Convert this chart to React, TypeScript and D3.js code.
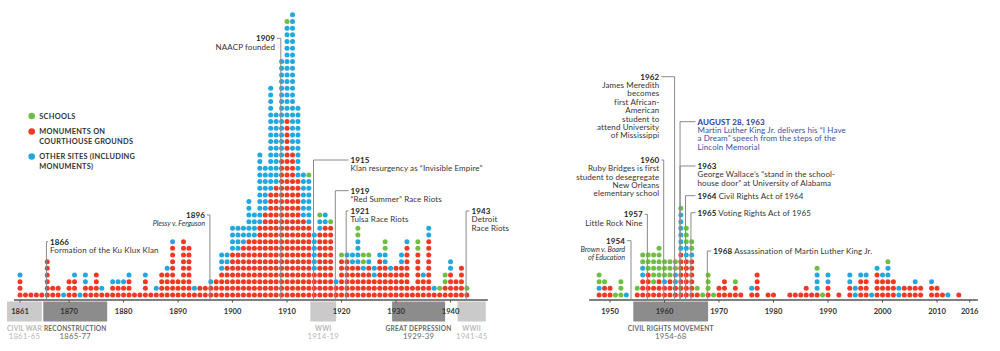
import * as d3 from 'd3';

// Monument dedications per year (bottom-up stack: courthouse, other, schools)
const earlyFirstYear = 1861; // 1861 .. 1945
const courthouseEarly = [
  3, 1, 1, 1, 1, 6, 2, 2, 0, // 1861-69
  3, 3, 0, 2, 2, 4, 1, 1, 2, 2, // 1870s
  2, 3, 1, 1, 3, 1, 1, 4, 4, 8, // 1880s
  3, 9, 8, 1, 2, 2, 2, 3, 4, 5, // 1890s
  7, 7, 8, 9, 9, 11, 13, 16, 17, 21, // 1900s
  27, 22, 18, 12, 11, 4, 10, 11, 11, 2, // 1910s
  6, 6, 5, 5, 4, 5, 3, 6, 5, 4, // 1920s
  5, 5, 8, 2, 7, 3, 9, 1, 1, 2, // 1930s
  4, 3, 5, 1, 0, 0, // 1940-45
];
const otherEarly = [
  1, 0, 0, 0, 0, 0, 0, 0, 1,
  0, 1, 1, 2, 0, 0, 1, 0, 1, 1,
  1, 1, 0, 0, 1, 0, 1, 0, 1, 1,
  0, 0, 0, 1, 0, 0, 1, 0, 3, 2,
  4, 4, 3, 6, 4, 11, 7, 16, 11, 15,
  14, 21, 11, 7, 7, 6, 2, 2, 0, 1,
  0, 1, 2, 4, 1, 1, 2, 1, 2, 1,
  0, 2, 1, 0, 0, 1, 2, 1, 0, 0,
  2, 0, 0, 0, 0, 0,
];
const schoolsEarly = [
  0, 0, 0, 0, 0, 0, 0, 0, 0,
  0, 0, 0, 0, 0, 0, 0, 0, 0, 0,
  0, 0, 0, 0, 0, 0, 0, 0, 0, 0,
  0, 0, 0, 0, 0, 0, 0, 0, 0, 0,
  0, 0, 0, 0, 0, 0, 0, 0, 0, 0,
  1, 0, 0, 0, 1, 0, 1, 0, 1, 0,
  1, 0, 0, 2, 2, 1, 0, 0, 2, 0,
  0, 0, 0, 0, 2, 0, 0, 0, 1, 2,
  0, 0, 0, 1, 0, 0,
];

const lateFirstYear = 1948; // 1948 .. 2016
const courthouseLate = [
  1, 2, // 1948-49
  2, 0, 0, 0, 0, 1, 3, 4, 2, 3, // 1950s
  2, 3, 2, 7, 6, 6, 1, 0, 1, 0, // 1960s
  2, 3, 1, 2, 1, 0, 1, 4, 0, 1, // 1970s
  1, 0, 0, 1, 1, 1, 2, 1, 1, 0, // 1980s
  2, 0, 1, 0, 2, 0, 3, 3, 0, 4, // 1990s
  3, 3, 3, 0, 2, 2, 2, 2, 0, 2, // 2000s
  2, 1, 0, 0, 1, 0, 0, // 2010-16
];
const otherLate = [
  1, 0,
  0, 0, 0, 1, 0, 0, 2, 0, 0, 0,
  1, 0, 2, 6, 2, 1, 0, 0, 0, 0,
  0, 0, 0, 0, 0, 0, 1, 0, 0, 0,
  0, 0, 0, 0, 0, 0, 0, 0, 3, 0,
  2, 0, 0, 0, 2, 2, 1, 1, 1, 1,
  1, 2, 0, 2, 0, 0, 1, 0, 0, 1,
  0, 0, 1, 0, 0, 0, 0,
];
const schoolsLate = [
  2, 1,
  0, 1, 3, 0, 0, 1, 2, 3, 5, 5,
  3, 3, 2, 1, 3, 2, 1, 1, 3, 1,
  0, 0, 0, 1, 0, 0, 0, 0, 0, 0,
  0, 0, 0, 0, 0, 0, 0, 0, 1, 1,
  0, 0, 0, 0, 0, 0, 0, 0, 0, 0,
  0, 1, 0, 0, 0, 0, 0, 0, 0, 0,
  0, 0, 0, 0, 0, 0, 0,
];

const legendItems = [
  { key: 'school', lines: ['SCHOOLS'] },
  { key: 'court', lines: ['MONUMENTS ON', 'COURTHOUSE GROUNDS'] },
  { key: 'other', lines: ['OTHER SITES (INCLUDING', 'MONUMENTS)'] },
];

const ticksEarly = [1861, 1870, 1880, 1890, 1900, 1910, 1920, 1930, 1940];
const ticksLate = [1950, 1960, 1970, 1980, 1990, 2000, 2010, 2016];

const eras = [
  { name: 'CIVIL WAR', span: '1861-65', start: 1861, end: 1865, dark: false },
  { name: 'RECONSTRUCTION', span: '1865-77', start: 1865, end: 1877, dark: true },
  { name: 'WWI', span: '1914-19', start: 1914, end: 1919, dark: false },
  { name: 'GREAT DEPRESSION', span: '1929-39', start: 1929, end: 1939, dark: true },
  { name: 'WWII', span: '1941-45', start: 1941, end: 1945, dark: false },
  { name: 'CIVIL RIGHTS MOVEMENT', span: '1954-68', start: 1954, end: 1968, dark: true },
];

// events: year the leader points at, heading, text lines
const events = [
  { year: 1866, head: '1866', body: ['Formation of the Ku Klux Klan'] },
  { year: 1896, head: '1896', body: ['Plessy v. Ferguson'], italic: true },
  { year: 1909, head: '1909', body: ['NAACP founded'] },
  { year: 1915, head: '1915', body: ['Klan resurgency as “Invisible Empire”'] },
  { year: 1919, head: '1919', body: ['“Red Summer” Race Riots'] },
  { year: 1921, head: '1921', body: ['Tulsa Race Riots'] },
  { year: 1943, head: '1943', body: ['Detroit', 'Race Riots'] },
  { year: 1954, head: '1954', body: ['Brown v. Board', 'of Education'], italic: true },
  { year: 1957, head: '1957', body: ['Little Rock Nine'] },
  { year: 1960, head: '1960', body: ['Ruby Bridges is first', 'student to desegregate', 'New Orleans', 'elementary school'] },
  { year: 1962, head: '1962', body: ['James Meredith', 'becomes', 'first African-', 'American', 'student to', 'attend University', 'of Mississippi'] },
  { year: 1963, head: 'AUGUST 28, 1963', body: ['Martin Luther King Jr. delivers his “I Have', 'a Dream” speech from the steps of the', 'Lincoln Memorial'], blue: true },
  { year: 1963, head: '1963', body: ['George Wallace’s “stand in the school-', 'house door” at University of Alabama'] },
  { year: 1964, head: '1964', body: ['Civil Rights Act of 1964'], inline: true },
  { year: 1965, head: '1965', body: ['Voting Rights Act of 1965'], inline: true },
  { year: 1968, head: '1968', body: ['Assassination of Martin Luther King Jr.'], inline: true },
];

// layout of the event labels: text x, heading centre y, anchor side
const eventLayout = [
  { tx: 50, ty: 241.7, side: 'start' },
  { tx: 205, ty: 215, side: 'end' },
  { tx: 275, ty: 38.3, side: 'end' },
  { tx: 350.5, ty: 160, side: 'start' },
  { tx: 350.5, ty: 190.7, side: 'start' },
  { tx: 350.5, ty: 211, side: 'start' },
  { tx: 471.5, ty: 211, side: 'start' },
  { tx: 625, ty: 240.7, side: 'end' },
  { tx: 642.7, ty: 214.3, side: 'end' },
  { tx: 659.3, ty: 160, side: 'end' },
  { tx: 659.3, ty: 76.7, side: 'end' },
  { tx: 697.5, ty: 121.7, side: 'start' },
  { tx: 697.5, ty: 166, side: 'start' },
  { tx: 697.5, ty: 195.7, side: 'start' },
  { tx: 697.5, ty: 212.7, side: 'start' },
  { tx: 713.3, ty: 251, side: 'start' },
];

const COLORS: Record<string, string> = { school: '#6fbe44', court: '#ee3a24', other: '#22a7e0' };

const x = d3.scaleLinear().domain([1861, 1945, 1947, 2016]).range([20, 477.8, 593.65, 969.7]);
const BASE = 300;
const row = d3.scaleLinear().domain([0, 42]).range([295, 295 - 42 * 6.67]);

function columns() {
  const out: { year: number; kinds: string[] }[] = [];
  const add = (first: number, c: number[], o: number[], s: number[]) => {
    c.forEach((_, i) => {
      const kinds = [
        ...Array(c[i]).fill('court'),
        ...Array(o[i]).fill('other'),
        ...Array(s[i]).fill('school'),
      ];
      if (kinds.length) out.push({ year: first + i, kinds });
    });
  };
  add(earlyFirstYear, courthouseEarly, otherEarly, schoolsEarly);
  add(lateFirstYear, courthouseLate, otherLate, schoolsLate);
  return out;
}

const FS = 8;
const LS = 0.1;
const LH = 8.4;
const bl = (c: number) => c + FS * 0.36;

export default function App() {
  const cols = columns();
  const leftEnd = x(1945) + 10;
  const axisParts = [
    [x(1861) - 6, leftEnd],
    [x(1948) - 10, x(2017.5)],
  ];
  return (
    <svg width={1000} height={351} style={{ position: 'absolute', left: 0, top: 0 }} fontFamily="Lato, 'Open Sans', sans-serif">
      <rect width={1000} height={351} fill="#fff" />

      {/* era bands */}
      {eras.map((e, i) => {
        const x0 = i === 0 ? x(e.start) - 13 : x(e.start) + 1.5;
        const x1 = e.end === 1945 ? leftEnd - 2 : x(e.end);
        const cx = (x0 + x1) / 2;
        return (
          <g key={e.name}>
            <rect x={x0} y={BASE + 1.5} width={x1 - x0} height={20} fill={e.dark ? '#8c8c8c' : '#cacaca'} />
            <text x={cx} y={330.8} textAnchor="middle" fontSize={6.6} fontWeight={700} fill={e.dark ? '#6a6a6a' : '#b9b9b9'} letterSpacing={0.2}>{e.name}</text>
            <text x={cx} y={339.2} textAnchor="middle" fontSize={7.8} fill={e.dark ? '#6a6a6a' : '#b9b9b9'} letterSpacing={0.2}>{e.span}</text>
          </g>
        );
      })}

      {/* axis */}
      {axisParts.map(([a, b], i) => (
        <line key={i} x1={a} x2={b} y1={BASE} y2={BASE} stroke="#555" strokeWidth={1.3} />
      ))}
      {[...ticksEarly, ...ticksLate].map(t => (
        <g key={t}>
          <line x1={x(t)} x2={x(t)} y1={BASE} y2={BASE + 2.5} stroke="#555" strokeWidth={1} />
          <text x={x(t)} y={314.3} textAnchor="middle" fontSize={7.6} fontWeight={700} fill="#333">{t}</text>
        </g>
      ))}

      {/* dots */}
      {cols.map(c => c.kinds.map((k, i) => (
        <circle key={`${c.year}-${i}`} cx={x(c.year)} cy={row(i)} r={2.5} fill={COLORS[k]} />
      )))}

      {/* event leaders and labels */}
      {events.map((ev, i) => {
        const L = eventLayout[i];
        const lx = x(ev.year) - 0.8;
        const hx = L.side === 'end' ? L.tx + 2 : L.tx - 2;
        const headColor = ev.blue ? '#2e3a94' : '#231f20';
        const bodyColor = ev.blue ? '#3a4ea5' : '#333';
        return (
          <g key={i}>
            <line x1={lx} x2={lx} y1={L.ty} y2={BASE} stroke="#8a8a8a" strokeWidth={1} />
            <line x1={lx} x2={hx} y1={L.ty} y2={L.ty} stroke="#8a8a8a" strokeWidth={1} />
            {ev.inline ? (
              <text x={L.tx} y={bl(L.ty)} fontSize={FS} fill={bodyColor} letterSpacing={LS}>
                <tspan fontWeight={700} fill={headColor}>{ev.head}</tspan>
                <tspan> {ev.body[0]}</tspan>
              </text>
            ) : (
              <g>
                <text x={L.tx} y={bl(L.ty)} fontSize={FS} fontWeight={700} fill={headColor} textAnchor={L.side} letterSpacing={LS}>{ev.head}</text>
                {ev.body.map((ln, j) => (
                  <text key={j} x={L.tx} y={bl(L.ty + LH * (j + 1))} fontSize={ev.italic ? 7.3 : FS} fill={bodyColor} textAnchor={L.side} letterSpacing={ev.italic ? -0.1 : LS} fontStyle={ev.italic ? 'italic' : 'normal'}>{ln}</text>
                ))}
              </g>
            )}
          </g>
        );
      })}

      {/* legend */}
      {(() => {
        let y = 116;
        return legendItems.map(it => {
          const y0 = y;
          y += 15.5 + 9.5 * (it.lines.length - 1);
          return (
            <g key={it.key}>
              <circle cx={31.7} cy={y0} r={3.3} fill={COLORS[it.key]} />
              {it.lines.map((ln, j) => (
                <text key={j} x={39.3} y={y0 + 9.5 * j + 2.6} fontSize={7.4} fontWeight={700} fill="#333" letterSpacing={0.25}>{ln}</text>
              ))}
            </g>
          );
        });
      })()}
    </svg>
  );
}
